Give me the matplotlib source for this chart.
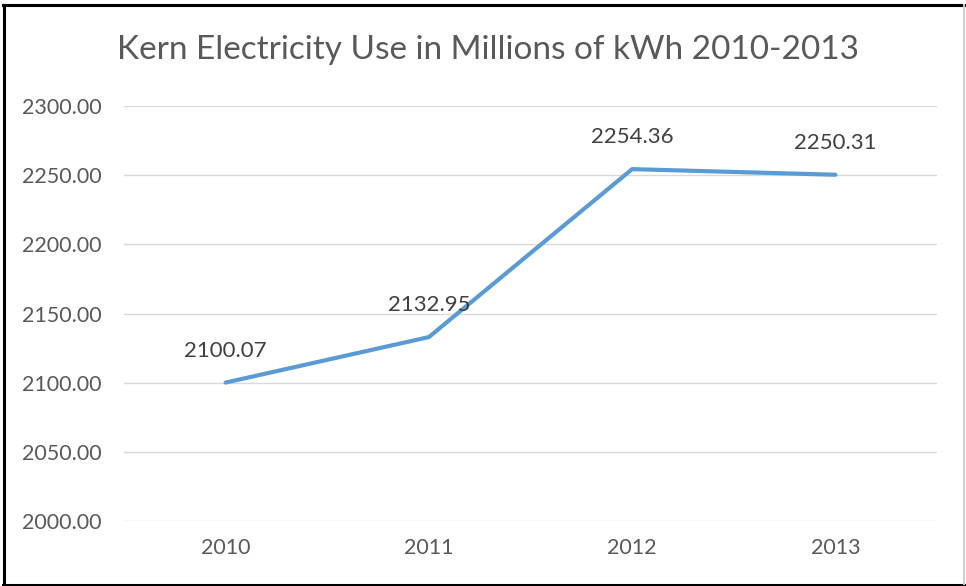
import matplotlib.pyplot as plt
from matplotlib.lines import Line2D

years = ["2010", "2011", "2012", "2013"]
usage = [2100.07, 2132.95, 2254.36, 2250.31]
y_ticks = [2000, 2050, 2100, 2150, 2200, 2250, 2300]

TEXT = "#595959"
GRID = "#D9D9D9"
LINE = "#5B9BD5"
FONT = "Lato"

W, H = 966, 586
fig = plt.figure(figsize=(W / 100, H / 100), dpi=100)
ax = fig.add_axes([124 / W, 1 - 521 / H, (937 - 124) / W, (521 - 106) / H])

x = list(range(len(years)))
ax.plot(x, usage, color=LINE, linewidth=3, solid_capstyle="round", zorder=3)
for xi, val in zip(x, usage):
    ax.annotate(f"{val:.2f}", (xi, val), xytext=(0, 23), textcoords="offset points",
                ha="center", va="center", fontsize=16, color="#404040", family=FONT, zorder=4)

ax.set_xlim(-0.5, len(years) - 0.5)
ax.set_ylim(2000, 2300)
ax.set_yticks(y_ticks)
ax.set_yticklabels([f"{v:.2f}" for v in y_ticks])
ax.set_xticks(x)
ax.set_xticklabels(years)
ax.tick_params(length=0, labelsize=15.5, labelcolor=TEXT)
ax.tick_params(axis="y", pad=16)
ax.tick_params(axis="x", pad=12)
for lbl in ax.get_xticklabels() + ax.get_yticklabels():
    lbl.set_family(FONT)
ax.grid(axis="y", color=GRID, linewidth=1)
ax.set_axisbelow(True)
for side in ax.spines.values():
    side.set_visible(False)

fig.text(488 / W, 1 - 50 / H, "Kern Electricity Use in Millions of kWh 2010-2013",
         ha="center", va="center", fontsize=24, color=TEXT, family=FONT)

# outer chart frame: dark on three sides, light on the right
def frame_line(xs, ys, color, lw):
    fig.lines.append(Line2D([v / W for v in xs], [1 - v / H for v in ys],
                            transform=fig.transFigure, color=color, linewidth=lw))

frame_line([4, 4], [5, 584], "black", 2.2)
frame_line([3, 964], [5, 5], "black", 2.2)
frame_line([3, 966], [584.5, 584.5], "black", 2.2)
frame_line([963.5, 963.5], [5, 584], "#D0D0D0", 1.5)

fig.savefig("out.png", dpi=100)
